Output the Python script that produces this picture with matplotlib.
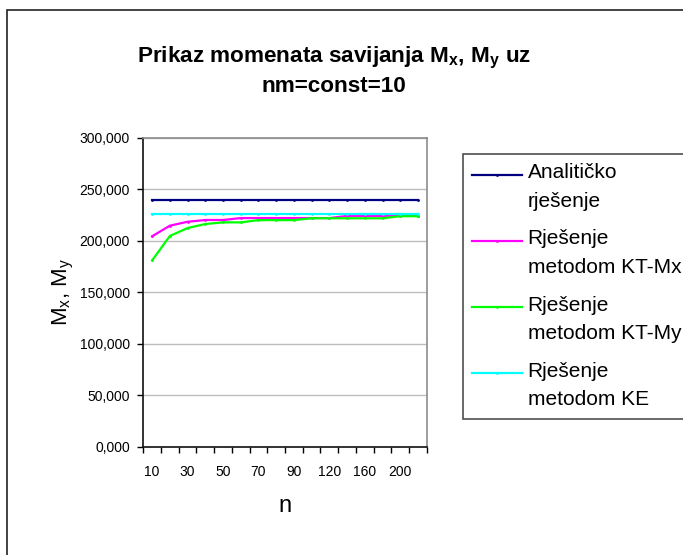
import numpy as np
import matplotlib
matplotlib.use("Agg")
import matplotlib.pyplot as plt
from matplotlib.legend_handler import HandlerLine2D
from matplotlib.patches import Rectangle

plt.rcParams['font.family'] = ['Liberation Sans', 'DejaVu Sans']
plt.rcParams['mathtext.default'] = 'regular'

# broj elemenata n i momenti savijanja
n_values = [10, 20, 30, 40, 50, 60, 70, 80, 90, 100, 120, 140, 160, 180, 200, 220]
analiticko = [239.8] * 16
kt_mx = [204.5, 214.8, 218.6, 220.3, 220.3, 222.2, 222.2, 222.2, 222.2, 222.2,
         222.2, 224.3, 224.3, 224.3, 224.3, 224.3]
kt_my = [181.1, 204.8, 212.5, 216.4, 218.0, 218.0, 220.2, 220.2, 220.2, 222.0,
         222.0, 222.0, 222.0, 222.0, 224.0, 224.0]
ke = [226.0] * 16

series = [
    (analiticko, '#000080', 'Analitičko\nrješenje'),
    (kt_mx, '#FF00FF', 'Rješenje\nmetodom KT-Mx'),
    (kt_my, '#00FF00', 'Rješenje\nmetodom KT-My'),
    (ke, '#00FFFF', 'Rješenje\nmetodom KE'),
]
y_ticks = [0, 50, 100, 150, 200, 250, 300]


class FirstLineHandler(HandlerLine2D):
    # legend line sits next to the first row of a two-row label
    def __init__(self, shift, **kw):
        super().__init__(**kw)
        self.shift = shift

    def create_artists(self, legend, orig_handle, xdescent, ydescent,
                       width, height, fontsize, trans):
        arts = super().create_artists(legend, orig_handle, xdescent, ydescent,
                                      width, height, fontsize, trans)
        for a in arts:
            a.set_ydata(np.asarray(a.get_ydata()) + self.shift)
        return arts


W, H = 683, 555
fig = plt.figure(figsize=(W / 100, H / 100), dpi=100)
fig.patches.append(Rectangle((7 / W, -0.1), 1.2, 1 - 10 / H + 0.1,
                             transform=fig.transFigure, fill=False,
                             edgecolor='#222222', lw=1.2))

ax = fig.add_axes([143.3 / W, 1 - 446.7 / H, 283.5 / W, 308.7 / H])
x = np.arange(len(n_values))
handles = []
for vals, col, lab in series:
    h, = ax.plot(x, vals, color=col, lw=1.6, marker='o', markersize=1.0, label=lab)
    handles.append(h)

ax.set_xlim(-0.5, len(n_values) - 0.5)
ax.set_ylim(0, 300)
ax.set_yticks(y_ticks)
ax.set_yticklabels([f"{v:.3f}".replace('.', ',') for v in y_ticks], fontsize=10)
ax.set_xticks(np.arange(-0.5, len(n_values)), labels=[])
ax.set_xticks(x[::2], labels=[str(v) for v in n_values[::2]], minor=True, fontsize=10)
ax.tick_params(axis='x', which='major', direction='out', length=4.5, width=1)
ax.tick_params(axis='x', which='minor', length=0, pad=13)
ax.tick_params(axis='y', direction='out', length=4.5, width=1, pad=5)
ax.yaxis.grid(True, color='#BDBDBD', lw=1)
ax.set_axisbelow(True)
for s in ('top', 'right'):
    ax.spines[s].set_color('#8C8C8C')
    ax.spines[s].set_linewidth(1.2)
for s in ('left', 'bottom'):
    ax.spines[s].set_color('#111111')
    ax.spines[s].set_linewidth(1.2)

ax.set_xlabel('n', fontsize=17, labelpad=12)
ax.set_ylabel('$M_x$, $M_y$', fontsize=16, labelpad=3)

fig.text(333.6 / W, 1 - 71.3 / H,
         'Prikaz momenata savijanja M$_x$, M$_y$ uz\nnm=const=10',
         ha='center', va='center', fontsize=16.2, fontweight='bold',
         linespacing=1.3)

leg = fig.legend(handles=handles, loc='upper left',
                 bbox_to_anchor=(463 / W, 1 - 154 / H), fontsize=15,
                 frameon=True, fancybox=False, borderaxespad=0,
                 handlelength=2.4, handletextpad=0.25, borderpad=0.45,
                 labelspacing=0.88,
                 handler_map={h: FirstLineHandler(9.2) for h in handles})
leg.get_frame().set_edgecolor('#222222')
leg.get_frame().set_linewidth(1.2)
for t in leg.get_texts():
    t.set_linespacing(1.65)
for lh in leg.get_lines():
    lh.set_linewidth(1.6)

fig.savefig('out.png', dpi=100)
